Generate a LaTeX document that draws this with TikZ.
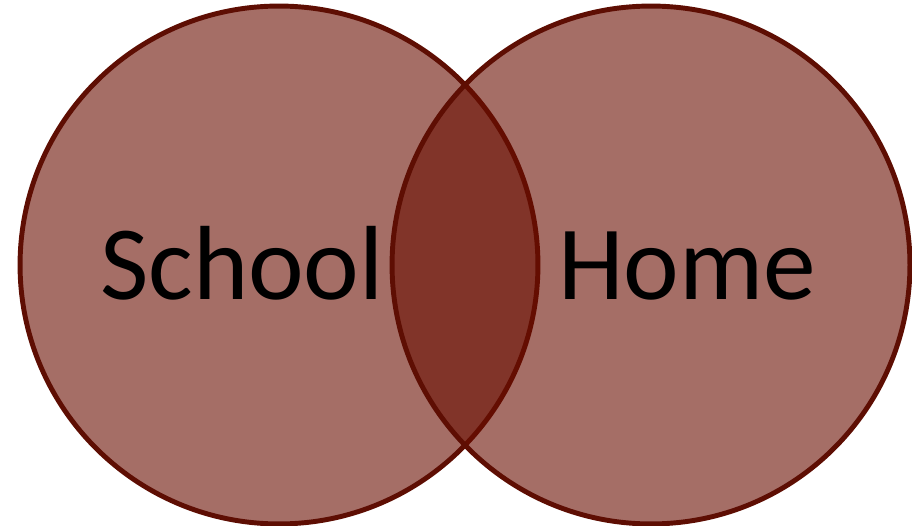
\documentclass[tikz,border=0pt]{standalone}
\usepackage{fontspec}
\newfontfamily\vennfont{Carlito}
\usepackage{tikz}
\definecolor{vennFill}{HTML}{690D00}
\definecolor{vennLine}{HTML}{5E0E03}
\tikzset{
  venn/.style     = {circle, draw=vennLine, line width=2.8pt, fill=vennFill,
                     fill opacity=0.6, minimum size=10.36cm, inner sep=0pt},
  vlab/.style     = {font=\vennfont\fontsize{60}{66}\selectfont, text=black,
                     inner sep=0pt, anchor=base},
}
\begin{document}
\begin{tikzpicture}[x=0.02cm, y=-0.02cm]
    \useasboundingbox (0,0) rectangle (912,526);
    \node[venn] (school) at (279,265) {};
    \node[venn] (home)   at (651,265) {};
    \node[vlab] (schooltx) at (242,300) {School};
    \node[vlab] (hometx)   at (687,300) {Home};
  \end{tikzpicture}
\end{document}
